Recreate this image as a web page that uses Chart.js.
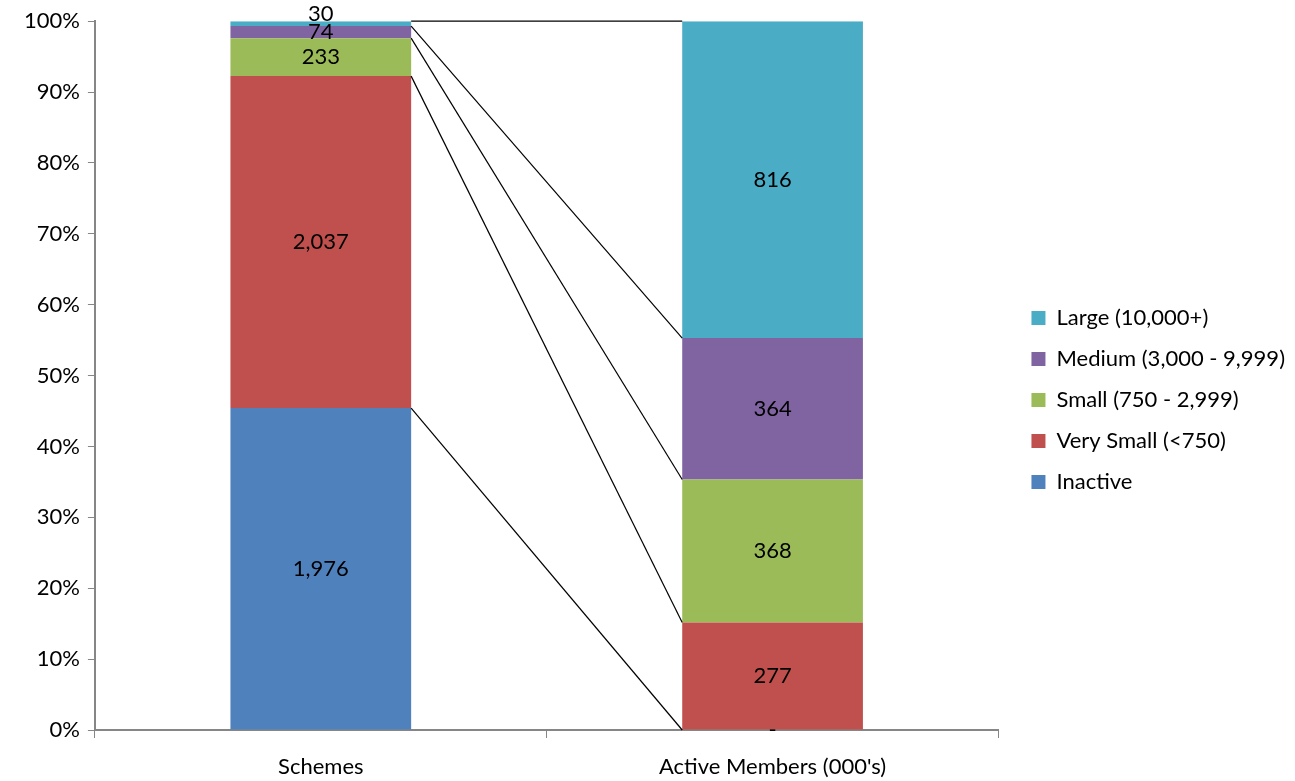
<!DOCTYPE html>
<html>
<head>
<meta charset="utf-8">
<script src="https://cdn.jsdelivr.net/npm/chart.js@4/dist/chart.umd.min.js"></script>
<style>
  body { margin: 0; background: #ffffff; }
  #wrap { width: 1295px; height: 781px; position: relative; }
</style>
</head>
<body>
<div id="wrap"><canvas id="sizeChart"></canvas></div>
<script>
// categories and raw values
const categories = ['Schemes', "Active Members (000's)"];
const seriesNames = ['Inactive', 'Very Small (<750)', 'Small (750 - 2,999)', 'Medium (3,000 - 9,999)', 'Large (10,000+)'];
const inactive = [1976, 0];
const verySmall = [2037, 277];
const small = [233, 368];
const medium = [74, 364];
const large = [30, 816];
const yTicks = [0, 10, 20, 30, 40, 50, 60, 70, 80, 90, 100];
const colors = ['#4F81BD', '#C0504D', '#9BBB59', '#8064A2', '#4BACC6'];

const rawSeries = [inactive, verySmall, small, medium, large];
const totals = categories.map((c, i) => rawSeries.reduce((s, arr) => s + arr[i], 0));

const FONT = "Lato, 'Open Sans', sans-serif";
const FS = 22;
const LEGEND_GAP = 14; // extra room between plot and legend

// draws value labels in the middle of each segment
const segmentLabels = {
    id: 'segmentLabels',
    afterDatasetsDraw(chart) {
        const ctx = chart.ctx;
        ctx.save();
        ctx.font = FS + 'px ' + FONT;
        ctx.fillStyle = '#000000';
        ctx.textAlign = 'center';
        ctx.textBaseline = 'middle';
        chart.data.datasets.forEach((ds, di) => {
            const meta = chart.getDatasetMeta(di);
            meta.data.forEach((bar, i) => {
                const v = ds.raw[i];
                const txt = v === 0 ? '-' : v.toLocaleString('en-US');
                let y = (bar.y + bar.base) / 2;
                // the sliver at the very top gets its label pushed up, like Excel
                if (v !== 0 && bar.base - bar.y < 8 && bar.y - chart.chartArea.top < 2) {
                    y = chart.chartArea.top - 7;
                }
                ctx.fillText(txt, bar.x, y);
            });
        });
        ctx.restore();
    }
};

// Excel-style series lines between the two stacks
const seriesLines = {
    id: 'seriesLines',
    afterDatasetsDraw(chart) {
        const ctx = chart.ctx;
        ctx.save();
        ctx.strokeStyle = '#000000';
        ctx.lineWidth = 1.2;
        chart.data.datasets.forEach((ds, di) => {
            const meta = chart.getDatasetMeta(di);
            const a = meta.data[0], b = meta.data[1];
            ctx.beginPath();
            ctx.moveTo(a.x + a.width / 2, a.y);
            ctx.lineTo(b.x - b.width / 2, b.y);
            ctx.stroke();
        });
        ctx.restore();
    }
};

// widen the legend box on its left side so the plot ends earlier
const legendGap = {
    id: 'legendGap',
    afterInit(chart) {
        const lg = chart.legend;
        const fit = lg.fit;
        lg.fit = function() { fit.call(this); this.width += LEGEND_GAP; };
        const draw = lg.draw;
        lg.draw = function() {
            this.ctx.save();
            this.ctx.translate(LEGEND_GAP, 5);
            draw.call(this);
            this.ctx.restore();
        };
    }
};

new Chart(document.getElementById('sizeChart'), {
    type: 'bar',
    data: {
        labels: categories,
        datasets: seriesNames.map((name, k) => ({
            label: name,
            raw: rawSeries[k],
            data: rawSeries[k].map((v, i) => v / totals[i] * 100),
            backgroundColor: colors[k],
            borderWidth: 0,
            categoryPercentage: 1,
            barPercentage: 0.4
        }))
    },
    options: {
        responsive: true,
        maintainAspectRatio: false,
        animation: false,
        layout: { padding: { top: 9, left: 16, right: 0, bottom: 0 } },
        plugins: {
            tooltip: { enabled: false },
            legend: {
                position: 'right',
                reverse: true,
                labels: {
                    font: { family: FONT, size: FS },
                    color: '#000000',
                    boxWidth: 14,
                    boxHeight: 14,
                    padding: 19
                }
            }
        },
        scales: {
            x: {
                stacked: true,
                afterFit(scale) { scale.height = 51; },
                grid: { drawOnChartArea: false, drawTicks: true, tickLength: 8, color: '#868686' },
                border: { color: '#868686', width: 2 },
                ticks: { font: { family: FONT, size: FS }, color: '#000000', padding: 16 }
            },
            y: {
                stacked: true,
                min: 0,
                max: 100,
                afterBuildTicks(axis) { axis.ticks = yTicks.map(v => ({ value: v })); },
                grid: { drawOnChartArea: false, drawTicks: true, tickLength: 7, color: '#868686' },
                border: { color: '#868686', width: 2 },
                ticks: {
                    font: { family: FONT, size: FS },
                    color: '#000000',
                    padding: 8,
                    callback: v => v + '%'
                }
            }
        }
    },
    plugins: [segmentLabels, seriesLines, legendGap]
});
</script>
</body>
</html>
